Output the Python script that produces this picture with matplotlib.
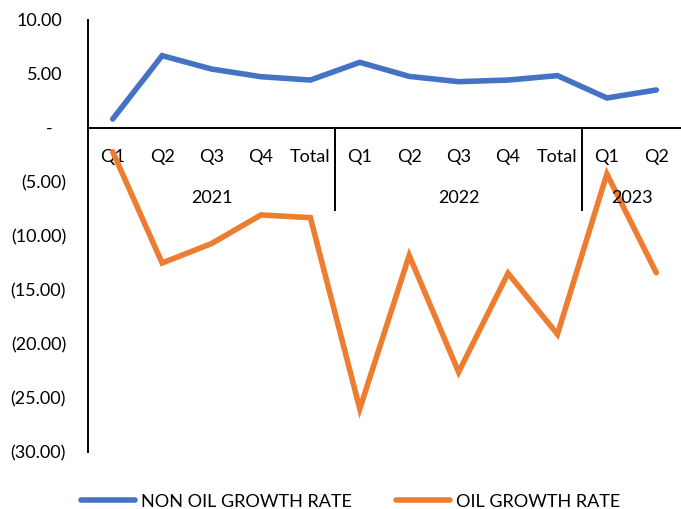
import matplotlib
matplotlib.use("Agg")
import matplotlib.pyplot as plt
import numpy as np

plt.rcParams['font.family'] = ['Lato', 'DejaVu Sans']

# quarterly growth rates, grouped by year
quarters = ["Q1", "Q2", "Q3", "Q4", "Total",
            "Q1", "Q2", "Q3", "Q4", "Total",
            "Q1", "Q2"]
years = ["2021", "2022", "2023"]
year_sizes = [5, 5, 2]
non_oil = [0.83, 6.70, 5.46, 4.75, 4.44, 6.08, 4.78, 4.29, 4.44, 4.85, 2.78, 3.52]
oil = [-2.2, -12.5, -10.7, -8.05, -8.3, -26.0, -11.8, -22.6, -13.45, -19.1, -4.26, -13.4]
y_ticks = [10, 5, 0, -5, -10, -15, -20, -25, -30]

BLUE = "#4472C4"
ORANGE = "#ED7D31"
FS = 13

fig = plt.figure(figsize=(6.81, 5.10), dpi=100)
ax = fig.add_axes([88 / 681, 1 - 453 / 510, 593 / 681, 432 / 510])

x = np.arange(len(quarters))
ax.plot(x, non_oil, color=BLUE, lw=4, solid_capstyle="round",
        solid_joinstyle="miter", label="NON OIL GROWTH RATE", zorder=3)
ax.plot(x, oil, color=ORANGE, lw=4, solid_capstyle="round",
        solid_joinstyle="miter", label="OIL GROWTH RATE", zorder=3)

ax.set_xlim(-0.5, len(quarters) - 0.5)
ax.set_ylim(-30, 10)

# only the left spine plus a zero line
for s in ["top", "right", "bottom"]:
    ax.spines[s].set_visible(False)
ax.spines["left"].set_linewidth(1.4)
ax.axhline(0, color="black", lw=1.4, zorder=2)
ax.set_xticks([])
ax.set_yticks([])

# accounting-style y labels
ytr = ax.get_yaxis_transform()
for v in y_ticks:
    if v > 0:
        ax.annotate(f"{v:.2f}", xy=(0, v), xycoords=ytr, xytext=(-26, 0),
                    textcoords="offset pixels", ha="right", va="center", fontsize=FS)
    elif v < 0:
        ax.annotate(f"({-v:.2f})", xy=(0, v), xycoords=ytr, xytext=(-22, 0),
                    textcoords="offset pixels", ha="right", va="center", fontsize=FS)
    else:
        ax.annotate("-", xy=(0, v), xycoords=ytr, xytext=(-39, 0),
                    textcoords="offset pixels", ha="center", va="center", fontsize=FS)

# two-level category axis hanging below the zero line
for i, q in enumerate(quarters):
    ax.annotate(q, xy=(i, 0), xycoords="data", xytext=(0, -28),
                textcoords="offset pixels", ha="center", va="center", fontsize=FS, zorder=1)

start = 0
sep_depth = 83 / 10.8
for k, (yr, n) in enumerate(zip(years, year_sizes)):
    mid = start + (n - 1) / 2
    ax.annotate(yr, xy=(mid, 0), xycoords="data", xytext=(0, -69),
                textcoords="offset pixels", ha="center", va="center", fontsize=FS, zorder=4)
    if k < len(years) - 1:
        ax.vlines(start + n - 0.5, -sep_depth, 0, color="black", lw=1.4, zorder=2)
    start += n

fig.legend(loc="center", bbox_to_anchor=(0.515, 1 - 502 / 510), ncol=2, frameon=False,
           fontsize=FS, handlelength=3.0, handletextpad=0.35, columnspacing=2.4)

fig.savefig("out.png", dpi=100)
